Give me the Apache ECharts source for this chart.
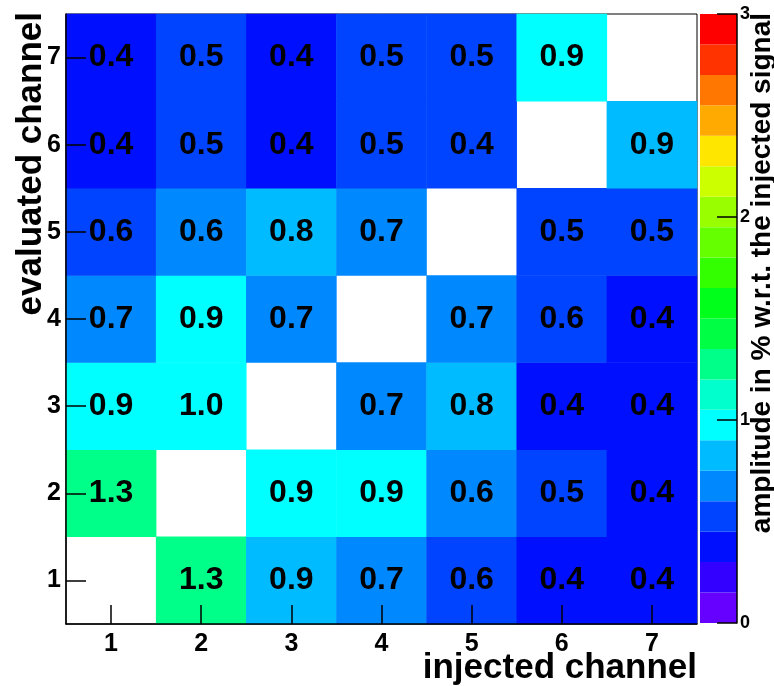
<!DOCTYPE html>
<html>
<head>
<meta charset="utf-8">
<title>Cross-talk amplitude</title>
<script src="https://cdn.jsdelivr.net/npm/echarts@6/dist/echarts.min.js"></script>
<style>
  html, body { margin: 0; padding: 0; background: #fff; }
  #chart { width: 774px; height: 686px; }
</style>
</head>
<body>
<div id="chart"></div>
<script>
// Channel labels on both axes
const injectedChannels = ['1', '2', '3', '4', '5', '6', '7'];
const evaluatedChannels = ['1', '2', '3', '4', '5', '6', '7'];

// Amplitude (% of injected signal), one array per evaluated channel,
// indexed by injected channel; the diagonal has no entry.
const evaluated1 = [null, 1.31, 0.87, 0.70, 0.58, 0.40, 0.40];
const evaluated2 = [1.30, null, 0.92, 0.91, 0.62, 0.50, 0.40];
const evaluated3 = [0.92, 1.00, null, 0.70, 0.80, 0.40, 0.40];
const evaluated4 = [0.70, 0.92, 0.70, null, 0.70, 0.58, 0.40];
const evaluated5 = [0.58, 0.62, 0.80, 0.70, null, 0.50, 0.50];
const evaluated6 = [0.40, 0.50, 0.40, 0.50, 0.449, null, 0.88];
const evaluated7 = [0.42, 0.50, 0.40, 0.50, 0.50, 0.92, null];
const rows = [evaluated1, evaluated2, evaluated3, evaluated4, evaluated5, evaluated6, evaluated7];

// Colour scale: 0 .. 3 split into 20 contour bands
const zMin = 0;
const zMax = 3;
const palette = [
  '#6600ff', '#3300ff', '#0010ff', '#0044ff', '#0088ff',
  '#00bbff', '#00ffff', '#00ffcc', '#00ff88', '#00ff44',
  '#00ff1a', '#33ff00', '#66ff00', '#99ff00', '#ccff00',
  '#ffe600', '#ffaa00', '#ff7700', '#ff3300', '#ff0000'
];

const nBands = palette.length;
const step = (zMax - zMin) / nBands;
const eps = 0.01 * step; // contour index uses a small offset, as in ROOT

const pieces = palette.map((color, i) => {
  const p = { color: color };
  if (i > 0) p.gte = zMin + i * step - eps;
  if (i < nBands - 1) p.lt = zMin + (i + 1) * step - eps;
  return p;
});

const heatData = [];
rows.forEach((row, yi) => {
  row.forEach((v, xi) => {
    if (v !== null) heatData.push([xi, yi, v]);
  });
});

const bandData = palette.map((c, i) => [zMin + i * step, zMin + (i + 1) * step, i]);

const FONT = 'Liberation Sans, Arial, Helvetica, sans-serif';

const chart = echarts.init(document.getElementById('chart'), null, { renderer: 'canvas' });

chart.setOption({
  backgroundColor: '#ffffff',
  animation: false,
  grid: [
    { left: 66, top: 14, width: 631, height: 610, show: true, borderColor: '#000', borderWidth: 1, backgroundColor: '#fff' },
    { left: 700, top: 14, width: 37, height: 609, show: false }
  ],
  xAxis: [
    {
      type: 'category', gridIndex: 0, data: injectedChannels, z: 5,
      axisLine: { show: true, lineStyle: { color: '#000', width: 1.5 } },
      axisTick: { show: true, inside: true, alignWithLabel: true, length: 19, lineStyle: { color: '#000', width: 1.5 } },
      axisLabel: { color: '#000', fontFamily: FONT, fontWeight: 'bold', fontSize: 25, margin: 8 },
      splitLine: { show: false }, splitArea: { show: false }
    },
    { type: 'value', gridIndex: 1, min: 0, max: 1, show: false }
  ],
  yAxis: [
    {
      type: 'category', gridIndex: 0, data: evaluatedChannels, z: 5,
      axisLine: { show: true, lineStyle: { color: '#000', width: 1.5 } },
      axisTick: { show: true, inside: true, alignWithLabel: true, length: 20, lineStyle: { color: '#000', width: 1.5 } },
      axisLabel: { color: '#000', fontFamily: FONT, fontWeight: 'bold', fontSize: 25, margin: 5 },
      splitLine: { show: false }, splitArea: { show: false }
    },
    {
      type: 'value', gridIndex: 1, position: 'right', min: zMin, max: zMax, interval: 1, z: 5,
      axisLine: { show: true, onZero: false, lineStyle: { color: '#000', width: 1.5 } },
      axisTick: { show: true, inside: true, length: 20, lineStyle: { color: '#000', width: 1.5 } },
      axisLabel: { color: '#000', fontFamily: FONT, fontWeight: 'bold', fontSize: 18, margin: 3 },
      splitLine: { show: false }
    }
  ],
  visualMap: {
    type: 'piecewise', show: false, seriesIndex: 0, dimension: 2,
    pieces: pieces
  },
  series: [
    {
      type: 'heatmap', xAxisIndex: 0, yAxisIndex: 0, data: heatData,
      label: {
        show: true, color: '#000', fontFamily: FONT, fontWeight: 'bold', fontSize: 32,
        formatter: p => p.value[2].toFixed(1)
      },
      emphasis: { disabled: true }
    },
    {
      type: 'custom', xAxisIndex: 1, yAxisIndex: 1, data: bandData, silent: true,
      encode: { y: [0, 1] },
      renderItem: (params, api) => {
        const lo = api.coord([0, api.value(0)]);
        const hi = api.coord([1, api.value(1)]);
        return {
          type: 'rect',
          shape: { x: lo[0], y: hi[1], width: hi[0] - lo[0], height: lo[1] - hi[1] },
          style: { fill: palette[api.value(2)] }
        };
      }
    }
  ],
  graphic: [
    {
      type: 'text', x: 697, y: 668,
      style: { text: 'injected channel', fill: '#000', font: 'bold 35px ' + FONT, textAlign: 'right', textVerticalAlign: 'middle' }
    },
    {
      type: 'text', x: 31, y: 12, rotation: Math.PI / 2,
      style: { text: 'evaluated channel', fill: '#000', font: 'bold 35px ' + FONT, textAlign: 'right', textVerticalAlign: 'middle' }
    },
    {
      type: 'text', x: 762, y: 13, rotation: Math.PI / 2,
      style: { text: 'amplitude in % w.r.t. the injected signal', fill: '#000', font: 'bold 28px ' + FONT, textAlign: 'right', textVerticalAlign: 'middle' }
    }
  ]
});
</script>
</body>
</html>
